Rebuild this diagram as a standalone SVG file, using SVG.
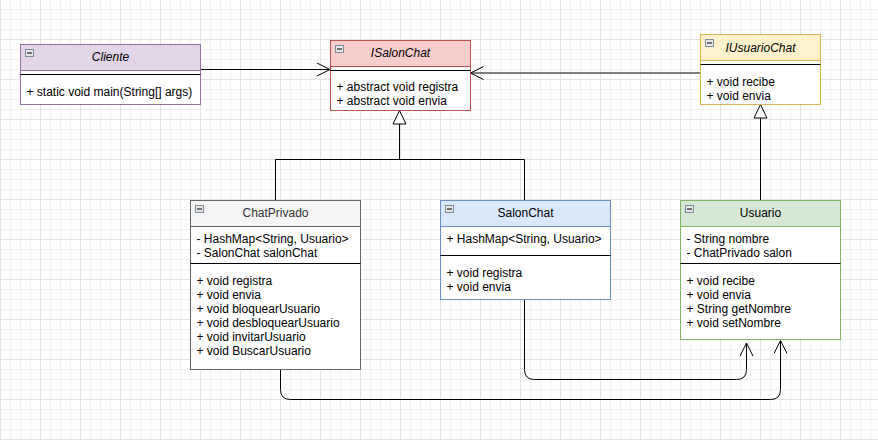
<svg xmlns="http://www.w3.org/2000/svg" width="878" height="440" viewBox="0 0 878 440">
<style>
text{font-family:"Liberation Sans",Arial,sans-serif;font-size:12px;fill:#000}
.t{text-anchor:middle}
.i{font-style:italic}
.body{fill:#fff}
.sep{stroke:#000;stroke-width:1}
.ico{fill:#e6e6e6;stroke:#7f8c99;stroke-width:1}
.icm{stroke:#222;stroke-width:1.2}
.e{fill:none;stroke:#000;stroke-width:1}
</style>
<defs>
<pattern id="grid" width="40" height="40" patternUnits="userSpaceOnUse" y="-1">
<path d="M10.5 0V40M20.5 0V40M30.5 0V40M0 10.5H40M0 20.5H40M0 30.5H40" stroke="#f2f2f2" stroke-width="1" fill="none"/>
<path d="M0.5 0V40M0 0.5H40" stroke="#e3e3e3" stroke-width="1" fill="none"/>
</pattern>
<marker id="open" viewBox="0 0 14 14" refX="13" refY="7" markerWidth="14" markerHeight="14" markerUnits="userSpaceOnUse" orient="auto">
<path d="M0 0.5L13 7L0 13.5" fill="none" stroke="#000" stroke-width="1"/>
</marker>
<marker id="tri" viewBox="0 0 15 15" refX="14" refY="7.5" markerWidth="15" markerHeight="15" markerUnits="userSpaceOnUse" orient="auto">
<path d="M0.5 1L14 7.5L0.5 14Z" fill="#fff" stroke="#000" stroke-width="1"/>
</marker>
</defs>
<rect width="878" height="440" fill="#fff"/>
<rect width="878" height="440" fill="url(#grid)"/>

<g id="connectors">
<path class="e" d="M200.5 69.5H330" marker-end="url(#open)"/>
<path class="e" d="M700.5 73H470.5" marker-end="url(#open)"/>
<path class="e" d="M275.5 200V159.5H524.5V200"/>
<path class="e" d="M399.5 159.5V110.5" marker-end="url(#tri)"/>
<path class="e" d="M760.5 200V104.5" marker-end="url(#tri)"/>
<path class="e" d="M524.5 300V369.5Q524.5 379.5 534.5 379.5H736.5Q746.5 379.5 746.5 369.5V343" marker-end="url(#open)"/>
<path class="e" d="M280.5 370V389.5Q280.5 399.5 290.5 399.5H770.5Q780.5 399.5 780.5 389.5V340.5" marker-end="url(#open)"/>
</g>

<g id="Cliente">
<rect class="body" x="20.5" y="44.5" width="180" height="60" stroke="#9673a6"/>
<rect x="20.5" y="44.5" width="180" height="26" fill="#e1d5e7" stroke="#9673a6"/>
<rect class="ico" x="25.5" y="49.5" width="8" height="7"/><path class="icm" d="M27 53H32"/>
<text class="t i" x="110.5" y="61">Cliente</text>
<path class="sep" d="M20.5 74.5H200.5"/>
<text x="26.5" y="96">+ static void main(String[] args)</text>
</g>

<g id="ISalonChat">
<rect class="body" x="330.5" y="40.5" width="140" height="70" stroke="#b85450"/>
<rect x="330.5" y="40.5" width="140" height="26" fill="#f8cecc" stroke="#b85450"/>
<rect class="ico" x="335.5" y="45.5" width="8" height="7"/><path class="icm" d="M337 49H342"/>
<text class="t i" x="400.5" y="57">ISalonChat</text>
<path class="sep" d="M330.5 70.5H470.5"/>
<text x="336.5" y="91">+ abstract void registra</text>
<text x="336.5" y="105">+ abstract void envia</text>
</g>

<g id="IUsuarioChat">
<rect class="body" x="700.5" y="34.5" width="120" height="70" stroke="#d6b656"/>
<rect x="700.5" y="34.5" width="120" height="26" fill="#fff2cc" stroke="#d6b656"/>
<rect class="ico" x="705.5" y="39.5" width="8" height="7"/><path class="icm" d="M707 43H712"/>
<text class="t i" x="760.5" y="51.5">IUsuarioChat</text>
<path class="sep" d="M700.5 64.5H820.5"/>
<text x="706.5" y="86">+ void recibe</text>
<text x="706.5" y="100">+ void envia</text>
</g>

<g id="ChatPrivado">
<rect class="body" x="190.5" y="200.5" width="170" height="169" stroke="#666666"/>
<rect x="190.5" y="200.5" width="170" height="26" fill="#f5f5f5" stroke="#666666"/>
<rect class="ico" x="195.5" y="205.5" width="8" height="7"/><path class="icm" d="M197 209H202"/>
<text class="t" x="275.5" y="217" style="fill:#333">ChatPrivado</text>
<text x="196.5" y="243">- HashMap&lt;String, Usuario&gt;</text>
<text x="196.5" y="257">- SalonChat salonChat</text>
<path class="sep" d="M190.5 263.5H360.5"/>
<text x="196.5" y="285">+ void registra</text>
<text x="196.5" y="299">+ void envia</text>
<text x="196.5" y="313">+ void bloquearUsuario</text>
<text x="196.5" y="327">+ void desbloquearUsuario</text>
<text x="196.5" y="341">+ void invitarUsuario</text>
<text x="196.5" y="355">+ void BuscarUsuario</text>
</g>

<g id="SalonChat">
<rect class="body" x="440.5" y="200.5" width="170" height="99" stroke="#6c8ebf"/>
<rect x="440.5" y="200.5" width="170" height="26" fill="#dae8fc" stroke="#6c8ebf"/>
<rect class="ico" x="445.5" y="205.5" width="8" height="7"/><path class="icm" d="M447 209H452"/>
<text class="t" x="525.5" y="217">SalonChat</text>
<text x="446.5" y="243">+ HashMap&lt;String, Usuario&gt;</text>
<path class="sep" d="M440.5 255.5H610.5"/>
<text x="446.5" y="276.5">+ void registra</text>
<text x="446.5" y="290.5">+ void envia</text>
</g>

<g id="Usuario">
<rect class="body" x="680.5" y="200.5" width="160" height="139" stroke="#82b366"/>
<rect x="680.5" y="200.5" width="160" height="26" fill="#d5e8d4" stroke="#82b366"/>
<rect class="ico" x="685.5" y="205.5" width="8" height="7"/><path class="icm" d="M687 209H692"/>
<text class="t" x="760.5" y="217">Usuario</text>
<text x="686.5" y="243">- String nombre</text>
<text x="686.5" y="257">- ChatPrivado salon</text>
<path class="sep" d="M680.5 263.5H840.5"/>
<text x="686.5" y="285">+ void recibe</text>
<text x="686.5" y="299">+ void envia</text>
<text x="686.5" y="313">+ String getNombre</text>
<text x="686.5" y="327">+ void setNombre</text>
</g>
</svg>
